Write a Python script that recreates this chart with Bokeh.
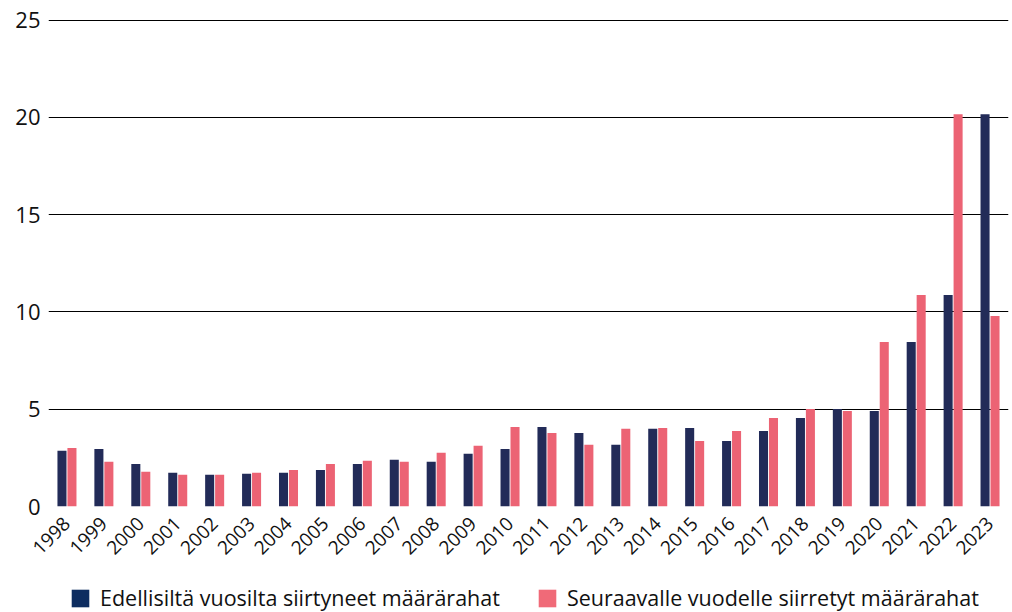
from math import pi
from bokeh.plotting import figure
from bokeh.layouts import column
from bokeh.models import ColumnDataSource, FactorRange, Range1d, Legend, LegendItem
from bokeh.transform import dodge
from bokeh.embed import file_html
from bokeh.resources import INLINE

years = [str(y) for y in range(1998, 2024)]
edellisilta = [2.86, 2.96, 2.19, 1.73, 1.63, 1.68, 1.73, 1.88, 2.19, 2.40, 2.30, 2.71, 2.96,
               4.09, 3.78, 3.17, 3.99, 4.04, 3.37, 3.88, 4.55, 5.01, 4.91, 8.45, 10.87, 20.16]
seuraavalle = [3.01, 2.30, 1.78, 1.63, 1.63, 1.73, 1.88, 2.19, 2.35, 2.30, 2.76, 3.12, 4.09,
               3.78, 3.17, 3.99, 4.04, 3.37, 3.88, 4.55, 5.01, 4.91, 8.45, 10.87, 20.16, 9.79]
label_a = "Edellisiltä vuosilta siirtyneet määrärahat"
label_b = "Seuraavalle vuodelle siirretyt määrärahat"
dark = "#222b58"
pink = "#ec6374"
legend_dark = "#0d2d60"
legend_pink = "#f06a78"
font = "Open Sans"

src = ColumnDataSource(dict(year=years, a=edellisilta, b=seuraavalle))

p = figure(width=1012, height=572, x_range=FactorRange(*years), y_range=Range1d(0, 25.03),
           output_backend="svg", toolbar_location=None,
           min_border_left=48, min_border_right=4, min_border_top=19, min_border_bottom=66)
p.outline_line_color = None
p.background_fill_color = "white"

r1 = p.vbar(x=dodge("year", -0.135, range=p.x_range), top="a", width=0.245, source=src,
            color=dark, line_color=None)
r2 = p.vbar(x=dodge("year", 0.135, range=p.x_range), top="b", width=0.245, source=src,
            color=pink, line_color=None)

p.xgrid.grid_line_color = None
p.ygrid.grid_line_color = "#000000"
p.ygrid.grid_line_width = 1
p.ygrid.level = "underlay"

p.yaxis.ticker = [0, 5, 10, 15, 20, 25]
p.yaxis.axis_line_color = None
p.yaxis.major_tick_line_color = None
p.yaxis.minor_tick_line_color = None
p.yaxis.major_label_text_font = font
p.yaxis.major_label_text_font_size = "22px"
p.yaxis.major_label_text_color = "#111111"
p.yaxis.major_label_standoff = 2

p.xaxis.axis_line_color = None
p.xaxis.major_tick_line_color = None
p.xaxis.major_label_orientation = pi / 4
p.xaxis.major_label_text_font = font
p.xaxis.major_label_text_font_size = "19px"
p.xaxis.major_label_text_color = "#111111"
p.xaxis.major_label_standoff = 8

# legend strip below the chart
lf = figure(width=1012, height=40, x_range=(0, 1), y_range=(0, 1),
            output_backend="svg", toolbar_location=None,
            min_border_left=0, min_border_right=0, min_border_top=0, min_border_bottom=0)
lf.axis.visible = False
lf.grid.visible = False
lf.outline_line_color = None
dummy = ColumnDataSource(dict(x=[0.5], top=[0]))
l1 = lf.vbar(x="x", top="top", width=0.0, source=dummy, color=legend_dark, line_color=None)
l2 = lf.vbar(x="x", top="top", width=0.0, source=dummy, color=legend_pink, line_color=None)
legend = Legend(items=[LegendItem(label=label_a, renderers=[l1]),
                       LegendItem(label=label_b, renderers=[l2])],
                orientation="horizontal", location=(21, 0),
                label_text_font=font, label_text_font_size="21.5px",
                label_text_color="#111111", label_height=22,
                glyph_width=22, glyph_height=22, spacing=36, label_standoff=9,
                border_line_color=None, background_fill_alpha=0, padding=0, margin=0)
lf.add_layout(legend, "center")

layout = column(p, lf, spacing=0)
open("out.html", "w").write(file_html(layout, INLINE))
